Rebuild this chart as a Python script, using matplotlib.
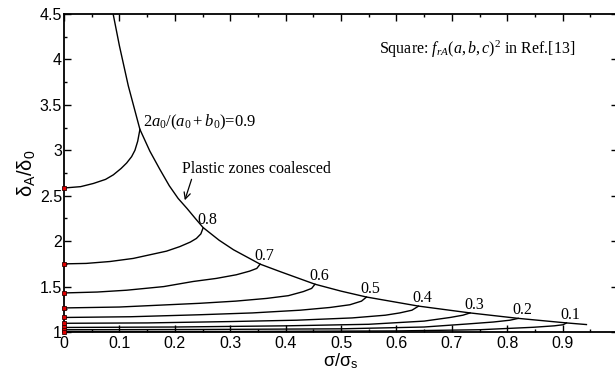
import matplotlib
matplotlib.use("Agg")
import matplotlib.pyplot as plt
from matplotlib.ticker import MultipleLocator

plt.rcParams["mathtext.fontset"] = "custom"
plt.rcParams["mathtext.rm"] = "Liberation Serif"
plt.rcParams["mathtext.it"] = "Liberation Serif:italic"
plt.rcParams["mathtext.bf"] = "Liberation Serif:bold"

# coalescence boundary (plastic zones coalesced)
coal_x = [0.089, 0.100, 0.116, 0.137, 0.155, 0.173, 0.190, 0.206, 0.222, 0.237, 0.251,
          0.280, 0.306, 0.354, 0.390, 0.453, 0.500, 0.546, 0.640, 0.733, 0.820, 0.907, 0.943]
coal_y = [4.49, 4.15, 3.71, 3.23, 2.99, 2.79, 2.61, 2.47, 2.36, 2.25, 2.15,
          2.01, 1.905, 1.747, 1.665, 1.526, 1.45, 1.385, 1.285, 1.21, 1.15, 1.10, 1.082]

# branches for 2a0/(a0+b0) = 0.9 ... 0.1
ratios = ["0.9", "0.8", "0.7", "0.6", "0.5", "0.4", "0.3", "0.2", "0.1"]
branch_x = [
    [0, 0.030, 0.053, 0.075, 0.089, 0.103, 0.113, 0.122, 0.128, 0.133, 0.137],
    [0, 0.040, 0.083, 0.125, 0.155, 0.185, 0.209, 0.228, 0.239, 0.247, 0.251],
    [0, 0.060, 0.113, 0.180, 0.233, 0.275, 0.311, 0.335, 0.348, 0.354],
    [0, 0.100, 0.245, 0.310, 0.366, 0.405, 0.432, 0.447, 0.453],
    [0, 0.120, 0.245, 0.340, 0.426, 0.480, 0.516, 0.537, 0.546],
    [0, 0.150, 0.300, 0.420, 0.520, 0.580, 0.606, 0.628, 0.640],
    [0, 0.200, 0.400, 0.550, 0.650, 0.697, 0.720, 0.733],
    [0, 0.250, 0.500, 0.650, 0.727, 0.775, 0.805, 0.820],
    [0, 0.300, 0.600, 0.750, 0.847, 0.885, 0.901, 0.907],
]
branch_y = [
    [2.585, 2.60, 2.635, 2.68, 2.73, 2.80, 2.86, 2.93, 3.00, 3.10, 3.23],
    [1.75, 1.755, 1.776, 1.81, 1.85, 1.89, 1.94, 1.99, 2.03, 2.08, 2.145],
    [1.43, 1.44, 1.46, 1.50, 1.556, 1.59, 1.63, 1.67, 1.70, 1.747],
    [1.265, 1.275, 1.316, 1.34, 1.37, 1.40, 1.445, 1.48, 1.526],
    [1.16, 1.168, 1.19, 1.21, 1.24, 1.27, 1.30, 1.34, 1.385],
    [1.096, 1.10, 1.115, 1.13, 1.155, 1.185, 1.21, 1.24, 1.285],
    [1.05, 1.055, 1.068, 1.085, 1.12, 1.16, 1.185, 1.21],
    [1.025, 1.028, 1.035, 1.055, 1.088, 1.11, 1.13, 1.15],
    [1.005, 1.006, 1.012, 1.025, 1.052, 1.068, 1.08, 1.10],
]

fig = plt.figure(figsize=(6.15, 3.76), dpi=100)
ax = fig.add_axes([0.1041, 0.117, 0.9008, 0.8457])

serif = "Liberation Serif"
sans = "Liberation Sans"

ax.plot(coal_x, coal_y, color="black", lw=1.0)
for i, (bx, by) in enumerate(zip(branch_x, branch_y)):
    ax.plot(bx, by, color="black", lw=1.0)
    ax.plot(bx[0], by[0], marker="s", ms=3.2, mfc="#e00000", mec="#300000", mew=0.6,
            clip_on=False, zorder=5)
    if i == 0:
        ax.annotate(r"$\mathit{2}a_0/(a_0+b_0)$=0.9", xy=(bx[-1], by[-1]), xytext=(3, 3),
                    textcoords="offset pixels", fontsize=12, family=serif,
                    va="baseline", ha="left")
    else:
        ax.annotate(ratios[i], xy=(bx[-1], by[-1]), xytext=(-6, 4),
                    textcoords="offset pixels", fontsize=11.5, family=serif,
                    va="baseline", ha="left")

ax.annotate("Plastic zones coalesced", xy=(0.218, 2.45), xytext=(0.213, 2.755),
            fontsize=11.5, family=serif, va="baseline", ha="left",
            arrowprops=dict(arrowstyle="->", color="black", lw=0.9,
                            shrinkA=0, shrinkB=0, relpos=(0.07, 0.0)))
ax.text(0.569, 4.06, r"Square: $f_{rA}(a,b,c)^2$ in Ref.[13]", fontsize=11.5,
        family=serif, va="baseline", ha="left")

ax.set_xlim(0, 1)
ax.set_ylim(1, 4.5)
ax.xaxis.set_minor_locator(MultipleLocator(0.05))
ax.yaxis.set_minor_locator(MultipleLocator(0.25))
ax.set_xticks([0, 0.1, 0.2, 0.3, 0.4, 0.5, 0.6, 0.7, 0.8, 0.9, 1.0])
ax.set_xticklabels(["0", "0.1", "0.2", "0.3", "0.4", "0.5", "0.6", "0.7", "0.8", "0.9", "1"])
ax.set_yticks([1, 1.5, 2, 2.5, 3, 3.5, 4, 4.5])
ax.set_yticklabels(["1", "1.5", "2", "2.5", "3", "3.5", "4", "4.5"])
ax.tick_params(which="both", direction="in", top=True, right=True, width=1.0)
ax.tick_params(which="major", length=5)
ax.tick_params(which="minor", length=2.5)
ax.tick_params(axis="x", labelsize=11.5, pad=3)
ax.tick_params(axis="y", labelsize=11.5, pad=1.5)
for lab in ax.get_xticklabels() + ax.get_yticklabels():
    lab.set_family(sans)
for sp in ax.spines.values():
    sp.set_linewidth(1.3)

ax.set_xlabel(r"σ/σ$_\mathregular{s}$", fontsize=13, family=sans, labelpad=0)
ax.set_ylabel(r"δ$_\mathregular{A}$/δ$_\mathregular{0}$", fontsize=14.5, family=sans, labelpad=2)

fig.savefig("out.png", dpi=100)
